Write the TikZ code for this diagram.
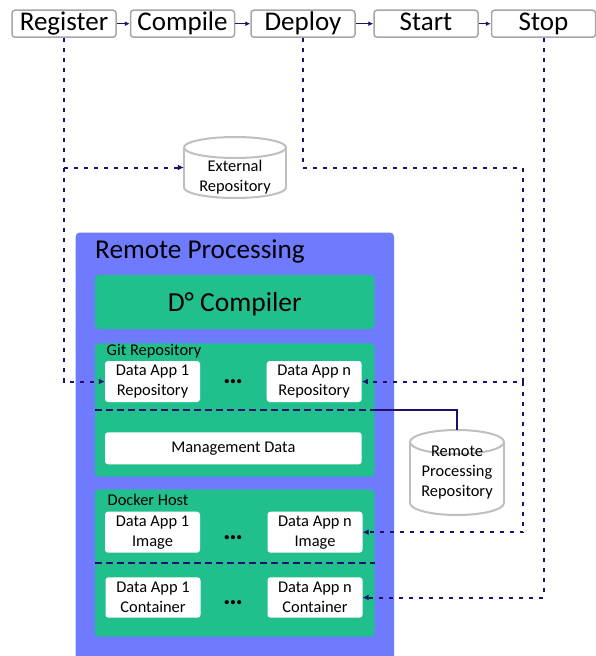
\documentclass[tikz,border=0pt]{standalone}
\usepackage{fontspec}
\setmainfont{Carlito}
\usetikzlibrary{arrows.meta,calc}
\definecolor{navy}{HTML}{1F0F6E}
\definecolor{rpblue}{HTML}{6F7BFF}
\definecolor{rpgreen}{HTML}{22BF8E}
\definecolor{boxgrey}{HTML}{A6A6A6}
\definecolor{cylgrey}{HTML}{BFBFBF}
\begin{document}
\begin{tikzpicture}[x=1pt,y=-1pt,
  stage/.style={draw=boxgrey, line width=1.5pt, fill=white, rounded corners=3pt,
    minimum width=104pt, minimum height=27pt, inner sep=0pt, text height=19pt, text depth=5pt,
    font=\fontsize{27}{30}\selectfont},
  flow/.style={navy, line width=1.4pt, -{Latex[length=5pt,width=5pt]}},
  link/.style={navy, line width=2pt, dash pattern=on 4pt off 6pt, -{Latex[length=6pt,width=6pt]}},
  sepline/.style={navy, line width=2pt, dash pattern=on 7pt off 4pt},
  panel/.style={fill=rpgreen, rounded corners=4pt, minimum width=279.5pt, inner sep=0pt},
  item/.style={fill=white, rounded corners=3pt, minimum width=95pt, minimum height=41pt,
    inner sep=0pt, align=center, font=\fontsize{16.4}{20}\selectfont},
  small/.style={inner sep=0pt, font=\fontsize{16.4}{20}\selectfont},
  dots/.style={inner sep=0pt, font=\fontsize{28}{30}\selectfont\bfseries},
  cyl/.style={draw=cylgrey, line width=2pt},
  holder/.style={inner sep=0pt}
]
\clip (0,0) rectangle (596,656);

% process stages
\node[stage] (register) at (64,23.7) {Register};
\node[stage] (compile) at (182.5,23.7) {Compile};
\node[stage] (deploy) at (303,23.7) {Deploy};
\node[stage] (start) at (426,23.7) {Start};
\node[stage] (stop) at (543.5,23.7) {Stop};
\draw[flow] (register) -- (compile);
\draw[flow] (compile) -- (deploy);
\draw[flow] (deploy) -- (start);
\draw[flow] (start) -- (stop);

% external repository (cylinder)
\node[holder, minimum width=102pt, minimum height=61pt] (extrepo) at (235,167.5) {};
\fill[white] (184,147.5) rectangle (286,187.5);
\begin{scope}
  \clip (180,187.5) rectangle (290,202);
  \draw[cyl, fill=white] (235,187.5) ellipse (51 and 10.5);
\end{scope}
\draw[cyl] (184,147.5) -- (184,187.5) (286,147.5) -- (286,187.5);
\draw[cyl, fill=white] (235,147.5) ellipse (51 and 10.5);
\node[small, align=center] (extrepotext) at (235,177) {External\\Repository};

% remote processing
\node[fill=rpblue, rounded corners=4pt, minimum width=318.3pt, minimum height=447.5pt, inner sep=0pt] (rp) at (234.85,456.25) {};
\node[anchor=base west, inner sep=0pt, font=\fontsize{27.2}{30}\selectfont] (rptitle) at (95,258.5) {Remote Processing};

\node[panel, minimum height=54pt, text depth=0pt, font=\fontsize{27.5}{32}\selectfont] (compiler) at (234.75,302) {D° Compiler};

% git repository
\node[panel, minimum height=133.4pt] (gitbox) at (234.75,410) {};
\node[small, anchor=west] (gitlabel) at (106.5,351.5) {Git Repository};
\node[item] (app1repo) at (152.5,381.5) {Data App 1\\Repository};
\node[item] (appnrepo) at (314.2,381.5) {Data App n\\Repository};
\node[dots] (gitdots) at (233,381.7) {…};
\coordinate (gitsepW) at (95,410);
\coordinate (gitsepE) at (374.5,410);
\draw[sepline] (gitsepW) -- (gitsepE);
\node[item, minimum width=256.7pt, minimum height=32pt] (mgmt) at (233.35,448.3) {Management Data};

% docker host
\node[panel, minimum height=147.4pt] (dockbox) at (234.75,563) {};
\node[small, anchor=west] (docklabel) at (107.5,500) {Docker Host};
\node[item] (app1img) at (152.5,532.2) {Data App 1\\Image};
\node[item] (appnimg) at (315,532.2) {Data App n\\Image};
\node[dots] (imgdots) at (233,538) {…};
\coordinate (docksepW) at (95,563.3);
\coordinate (docksepE) at (374.5,563.3);
\draw[sepline] (docksepW) -- (docksepE);
\node[item, minimum height=40.4pt] (app1cont) at (153,597.5) {Data App 1\\Container};
\node[item, minimum height=40.4pt] (appncont) at (315,597.5) {Data App n\\Container};
\node[dots] (contdots) at (233,602.7) {…};

% remote processing repository (cylinder)
\node[holder, minimum width=94pt, minimum height=85pt] (rprepo) at (457,472.5) {};
\fill[white] (410,442) rectangle (504,503);
\begin{scope}
  \clip (406,503) rectangle (508,520);
  \draw[cyl, fill=white] (457,503) ellipse (47 and 12);
\end{scope}
\draw[cyl] (410,442) -- (410,503) (504,442) -- (504,503);
\draw[cyl, fill=white] (457,442) ellipse (47 and 12);
\node[small, align=center] (rprepotext) at (457,472.7) {Remote\\Processing\\Repository};
\draw[navy, line width=2pt] (gitsepE) -| (rprepo.north);

% dotted connectors
\coordinate (dturn) at (523,167.5);
\draw[link] (register.south) |- (app1repo.west);
\draw[link] (register.south |- extrepo.west) -- (extrepo.west);
\draw[link] (deploy.south) |- (dturn) -- (dturn |- appnrepo.east) -- (appnrepo.east);
\draw[link] (dturn |- appnrepo.east) |- (appnimg.east);
\draw[link] (stop.south) |- (appncont.east);
\end{tikzpicture}
\end{document}
